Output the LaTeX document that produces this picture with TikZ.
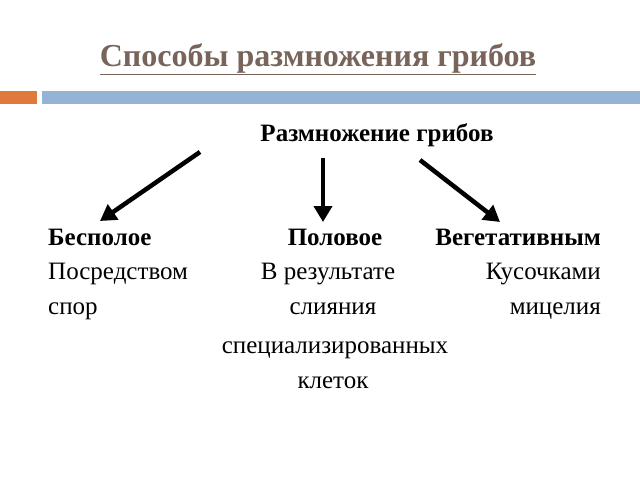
\documentclass[tikz,border=0pt]{standalone}
\usepackage{fontspec}
\setmainfont{Liberation Serif}
\usetikzlibrary{arrows.meta}
\definecolor{titlecol}{RGB}{120,100,90}
\definecolor{barblue}{RGB}{148,180,214}
\definecolor{barorange}{RGB}{224,122,60}
\tikzset{
  txt/.style={font=\fontsize{25}{30}\selectfont, inner sep=0pt, anchor=base},
  bold/.style={txt, font=\fontsize{25}{30}\selectfont\bfseries},
  arr/.style={line width=4.5pt, -{Triangle[length=16pt,width=18pt]}}
}
\begin{document}
\begin{tikzpicture}[x=1pt,y=-1pt]
  \useasboundingbox (0,0) rectangle (640,480);
  % title and bar
  \node[inner sep=0pt, anchor=base, text=titlecol, font=\fontsize{32}{38}\selectfont\bfseries] (title) at (318,66) {\underline{Способы размножения грибов}};
  \fill[barorange] (0,91) rectangle (37,104);
  \fill[barblue] (42,91) rectangle (640,104);
  % top line
  \node[bold] (top) at (377,141) {Размножение грибов};
  \coordinate (aL) at (200,152);
  \coordinate (aM) at (323,158);
  \coordinate (aR) at (420,160);
  \draw[arr] (aL) -- (100,221);
  \draw[arr] (aM) -- (323,222);
  \draw[arr] (aR) -- (500,222);
  % columns
  \node[bold, anchor=base west] (bes) at (48,245) {Бесполое};
  \node[bold] (pol) at (335,245) {Половое};
  \node[bold, anchor=base east] (veg) at (601,245) {Вегетативным};
  \node[txt, anchor=base west] (pos) at (48,279) {Посредством};
  \node[txt] (rez) at (328,279) {В результате};
  \node[txt, anchor=base east] (kus) at (601,279) {Кусочками};
  \node[txt, anchor=base west] (spor) at (48,314) {спор};
  \node[txt] (sli) at (333,314) {слияния};
  \node[txt, anchor=base east] (mic) at (601,314) {мицелия};
  \node[txt] (spec) at (335,353) {специализированных};
  \node[txt] (kl) at (333,388) {клеток};
\end{tikzpicture}
\end{document}
